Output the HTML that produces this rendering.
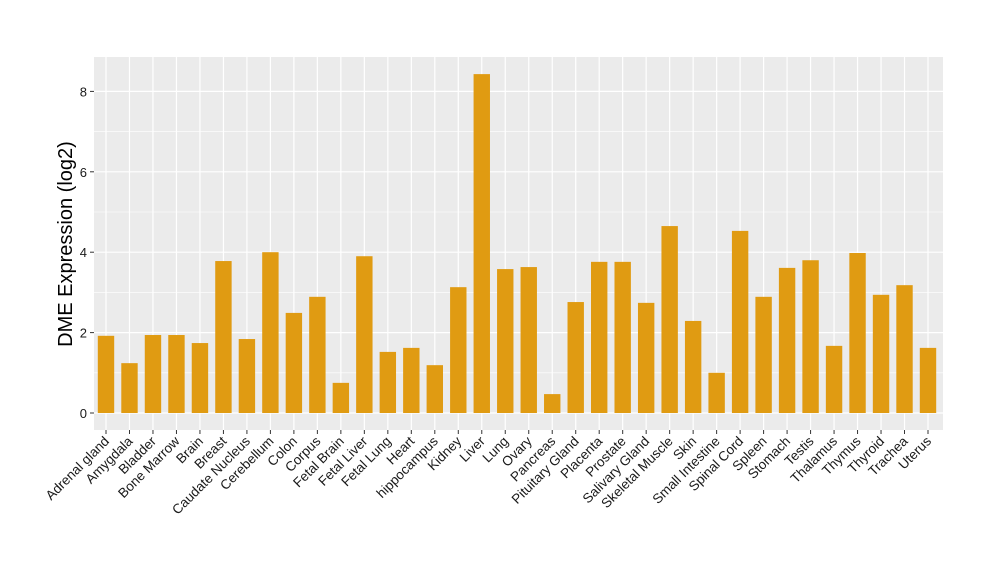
<!DOCTYPE html>
<html><head><meta charset="utf-8"><style>
body{margin:0;background:#fff;}
svg text{font-family:"Liberation Sans",Arial,sans-serif;}
</style></head><body>
<svg id="chart" width="1000" height="580" xmlns="http://www.w3.org/2000/svg">
<rect width="1000" height="580" fill="#fff"/>
<g id="plot"></g>
</svg>
<script>
const categories=["Adrenal gland","Amygdala","Bladder","Bone Marrow","Brain","Breast","Caudate Nucleus","Cerebellum","Colon","Corpus","Fetal Brain","Fetal Liver","Fetal Lung","Heart","hippocampus","Kidney","Liver","Lung","Ovary","Pancreas","Pituitary Gland","Placenta","Prostate","Salivary Gland","Skeletal Muscle","Skin","Small Intestine","Spinal Cord","Spleen","Stomach","Testis","Thalamus","Thymus","Thyroid","Trachea","Uterus"];
const values=[1.92,1.24,1.94,1.94,1.74,3.78,1.84,4.0,2.49,2.89,0.75,3.9,1.52,1.62,1.19,3.13,8.43,3.58,3.63,0.47,2.76,3.76,3.76,2.74,4.65,2.29,1.0,4.53,2.89,3.61,3.8,1.67,3.98,2.94,3.18,1.62];
const yTicks=[0,2,4,6,8];
const yMinor=[1,3,5,7];
const NS="http://www.w3.org/2000/svg";
const L=94,R=943,T=57,B=430;
function xs(i){return 106+i*((928-106)/35);}
function ys(v){return 413-v*40.2;}
const g=document.getElementById('plot');
function el(t,a,p){const e=document.createElementNS(NS,t);for(const k in a)e.setAttribute(k,a[k]);(p||g).appendChild(e);return e;}
const bg=el('rect',{x:L,y:T,width:R-L,height:B-T,fill:'#EBEBEB'});


yMinor.forEach(v=>{const l=el('line',{x1:L,x2:R,y1:ys(v),y2:ys(v),stroke:'#fff','stroke-width':0.6});

});
yTicks.forEach(v=>{const l=el('line',{x1:L,x2:R,y1:ys(v),y2:ys(v),stroke:'#fff','stroke-width':1.2});


const t=el('line',{x1:L-4,x2:L,y1:ys(v),y2:ys(v),stroke:'#333'});


const tx=el('text',{x:L-7,y:ys(v)+5,'text-anchor':'end','font-size':13,fill:'#1A1A1A'});tx.textContent=v;

});
categories.forEach((c,i)=>{const x=xs(i);
const gl=el('line',{x1:x,x2:x,y1:T,y2:B,stroke:'#fff','stroke-width':1.2});

});
categories.forEach((c,i)=>{const x=xs(i),w=16.4;
const b=el('rect',{x:x-w/2,y:ys(values[i]),width:w,height:ys(0)-ys(values[i]),fill:'#E09B12'});


const t=el('line',{x1:x,x2:x,y1:B,y2:B+4,stroke:'#333'});


const tx=el('text',{x:x+4,y:B+12,'text-anchor':'end','font-size':13.5,fill:'#1A1A1A',transform:`rotate(-45 ${x+4} ${B+12})`});tx.textContent=c;

});
const yt=el('text',{x:72,y:244,'text-anchor':'middle','font-size':20,fill:'#000',transform:'rotate(-90 72 244)'});yt.textContent='DME Expression (log2)';


</script>
</body></html>
